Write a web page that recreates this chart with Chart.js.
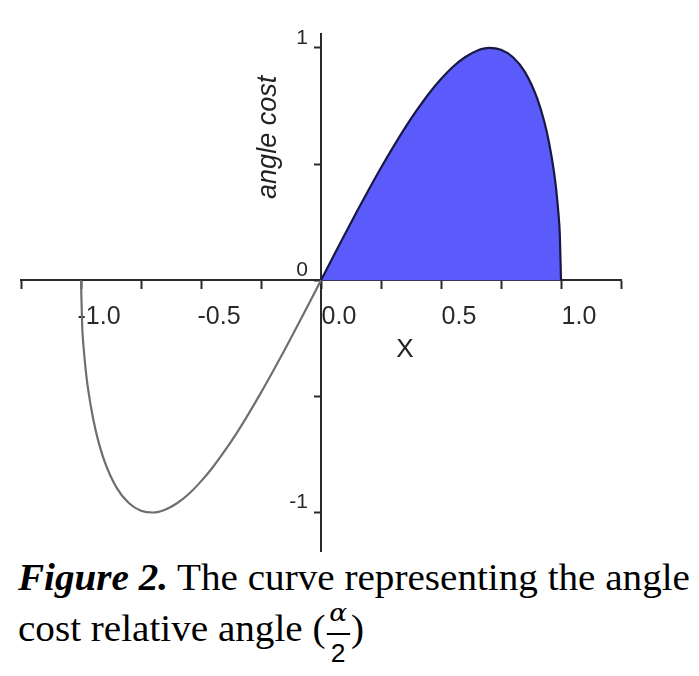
<!DOCTYPE html>
<html>
<head>
<meta charset="utf-8">
<script src="https://cdn.jsdelivr.net/npm/chart.js@4"></script>
<style>
  html, body { margin: 0; padding: 0; background: #fff; }
  #wrap { position: relative; width: 699px; height: 676px; overflow: hidden; }
  #c { position: absolute; left: 0; top: 0; }
  #cap { position: absolute; left: 18px; top: 552px; font-family: "Liberation Serif", "Times New Roman", serif;
         font-size: 37px; line-height: 51px; color: #000; white-space: nowrap; }
  #cap b { font-style: italic; font-weight: bold; }
  .frac { display: inline-block; position: relative; width: 22px; height: 10px; margin: 0 1px; }
  .frac .in { position: absolute; left: 0; top: -30px; width: 100%; text-align: center; font-size: 25px; }
  .frac .num { display: block; font-family: "DejaVu Serif", serif; font-style: italic; line-height: 24px; padding-bottom: 8px; border-bottom: 2px solid #000; }
  .frac .den { display: block; font-family: "Liberation Sans", sans-serif; line-height: 24px; padding-top: 6px; }
</style>
</head>
<body>
<div id="wrap">
  <canvas id="c" width="699" height="552" style="width:699px;height:552px"></canvas>
  <div id="cap"><span id="l1"><b>Figure 2.</b> The curve representing the angle</span><br>cost relative angle (<span class="frac"><span class="in"><span class="num">α</span><span class="den">2</span></span></span>)</div>
</div>
<script>
// ---- data ----
const negX = [-1.0, -0.995, -0.99, -0.98, -0.97, -0.95, -0.93, -0.9, -0.85, -0.8, -0.75, -0.7, -0.65, -0.6, -0.55, -0.5, -0.45, -0.4, -0.35, -0.3, -0.25, -0.2, -0.15, -0.1, -0.05, 0.0];
const negY = [0.0, -0.199, -0.279, -0.390, -0.472, -0.593, -0.684, -0.785, -0.896, -0.960, -0.992, -1.000, -0.988, -0.960, -0.919, -0.866, -0.804, -0.733, -0.656, -0.572, -0.484, -0.392, -0.297, -0.199, -0.100, 0.0];
const posX = [0.0, 0.05, 0.1, 0.15, 0.2, 0.25, 0.3, 0.35, 0.4, 0.45, 0.5, 0.55, 0.6, 0.65, 0.7, 0.75, 0.8, 0.85, 0.9, 0.93, 0.95, 0.97, 0.98, 0.99, 0.995, 1.0];
const posY = [0.0, 0.100, 0.199, 0.297, 0.392, 0.484, 0.572, 0.656, 0.733, 0.804, 0.866, 0.919, 0.960, 0.988, 1.000, 0.992, 0.960, 0.896, 0.785, 0.684, 0.593, 0.472, 0.390, 0.279, 0.199, 0.0];
const xTickValues = [-1.25, -1.0, -0.75, -0.5, -0.25, 0, 0.25, 0.5, 0.75, 1.0, 1.25];
const xTickLabels = {"-1": "-1.0", "-0.5": "-0.5", "0": "0.0", "0.5": "0.5", "1": "1.0"};
const yTickValues = [-1, -0.5, 0, 0.5, 1];
const yTickLabels = {"-1": "-1", "0": "0", "1": "1"};
const xTitle = "X";
const yTitle = "angle cost";

const toPts = (xs, ys) => xs.map((x, i) => ({x: x, y: ys[i]}));
const axisColor = '#2a2a2a';

const titles = {
  id: 'axisTitles',
  afterDraw(chart) {
    const ctx = chart.ctx, xs = chart.scales.x, ys = chart.scales.y;
    const x0 = xs.getPixelForValue(0);
    ctx.save();
    ctx.fillStyle = '#2a2a2a';
    // y tick labels (left of the centred axis)
    ctx.textAlign = 'right';
    ctx.textBaseline = 'middle';
    ctx.font = '21px "Liberation Sans", Arial, sans-serif';
    ys.ticks.forEach(t => {
      const lab = yTickLabels[String(t.value)];
      if (lab) ctx.fillText(lab, x0 - 13, ys.getPixelForValue(t.value) - 10);
    });
    ctx.fillStyle = '#222';
    ctx.textAlign = 'center';
    ctx.font = '26px "Liberation Sans", Arial, sans-serif';
    ctx.fillText(xTitle, xs.getPixelForValue(0.35), ys.getPixelForValue(0) + 70);
    ctx.translate(xs.getPixelForValue(-0.22), ys.getPixelForValue(0.615));
    ctx.rotate(-Math.PI / 2);
    ctx.font = 'italic 27px "Liberation Sans", Arial, sans-serif';
    ctx.fillText(yTitle, 0, 0);
    ctx.restore();
  }
};

new Chart(document.getElementById('c'), {
  type: 'line',
  data: {
    datasets: [
      { data: toPts(negX, negY), borderColor: '#6f6f6f', borderWidth: 2.2, pointRadius: 0, fill: false, cubicInterpolationMode: 'monotone' },
      { data: toPts(posX, posY), borderColor: '#181844', backgroundColor: '#5b5bfb', borderWidth: 2.2, pointRadius: 0, fill: 'origin', cubicInterpolationMode: 'monotone' }
    ]
  },
  options: {
    responsive: false,
    animation: false,
    layout: { padding: { left: 21, right: 78, top: 34, bottom: 0 } },
    plugins: { legend: { display: false }, tooltip: { enabled: false } },
    scales: {
      x: {
        type: 'linear', min: -1.25, max: 1.25, position: { y: 0 },
        afterFit: s => { s.height = 0; },
        afterBuildTicks: s => { s.ticks = xTickValues.map(v => ({ value: v })); },
        border: { display: true, color: axisColor, width: 2 },
        grid: { display: true, drawOnChartArea: false, drawTicks: true, tickLength: 8, tickWidth: 2, tickColor: axisColor },
        ticks: {
          autoSkip: false, maxRotation: 0, labelOffset: 18, padding: 14, color: '#2a2a2a',
          font: { family: '"Liberation Sans", Arial, sans-serif', size: 25 },
          callback: v => xTickLabels[String(v)] || ''
        }
      },
      y: {
        type: 'linear', min: -1.17, max: 1.06, position: { x: 0 },
        afterFit: s => { s.width = 0; },
        afterBuildTicks: s => { s.ticks = yTickValues.map(v => ({ value: v })); },
        border: { display: true, color: axisColor, width: 2 },
        grid: { display: true, drawOnChartArea: false, drawTicks: true, tickLength: 6, tickWidth: 2, tickColor: axisColor },
        ticks: { display: false }
      }
    }
  },
  plugins: [titles]
});

// fit caption first line width to reference
(function () {
  const l1 = document.getElementById('l1');
  const w = l1.getBoundingClientRect().width;
  const target = 672;
  const cap = document.getElementById('cap');
  const s = target / w;
  cap.style.transformOrigin = '0 0';
  cap.style.transform = 'scaleX(' + s.toFixed(4) + ')';
})();
</script>
</body>
</html>
